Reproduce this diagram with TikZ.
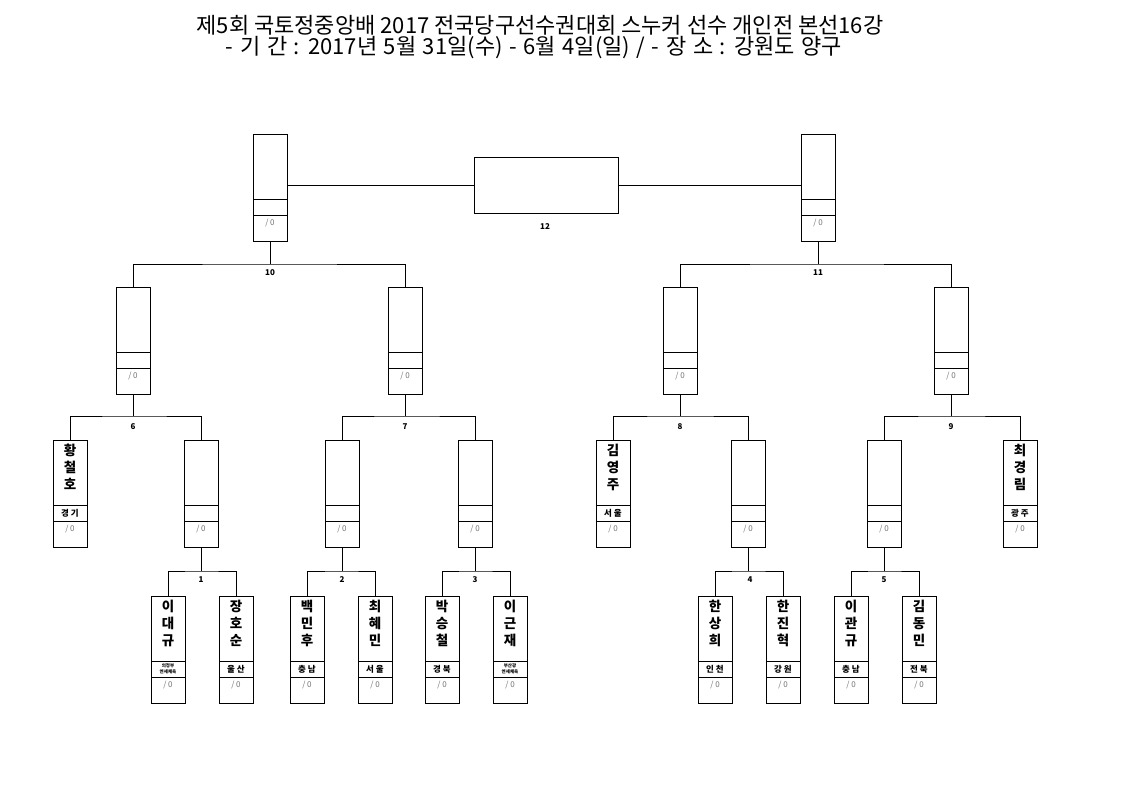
\documentclass[tikz,border=0pt]{standalone}
\usepackage{fontspec}
\setmainfont{Noto Sans CJK KR}
\usetikzlibrary{calc}
\tikzset{
  pbox/.style={draw, line width=0.8pt, minimum width=34pt, minimum height=107pt, inner sep=0pt, outer sep=0pt},
  ln/.style={line width=0.8pt},
  nm/.style={anchor=north, align=center, inner sep=0pt, font=\bfseries\fontsize{13.5}{17}\selectfont},
  rg/.style={inner sep=0pt, font=\bfseries\fontsize{8.5}{9}\selectfont},
  rgs/.style={inner sep=0pt, align=center, font=\bfseries\fontsize{4.5}{5.5}\selectfont},
  sc/.style={inner sep=0pt, text=black!55, font=\fontsize{8}{8}\selectfont},
  num/.style={inner sep=0pt, font=\bfseries\fontsize{8}{9}\selectfont},
  ttl/.style={inner sep=0pt, font=\fontsize{22}{24}\selectfont}
}
\newcommand\pbx[5]{%
  \node[pbox] (#1) at (#2,#3+53.5) {};
  \draw[ln] ([yshift=-65pt]#1.north west) -- ([yshift=-65pt]#1.north east);
  \draw[ln] ([yshift=-81pt]#1.north west) -- ([yshift=-81pt]#1.north east);
  \node[nm] (#1n) at ([yshift=-4pt]#1.north) {#4};
  \node[#5] (#1s) at ([yshift=-89pt]#1.north) {/ 0};
}
\newcommand\rgn[3]{\node[#2] (#1r) at ([yshift=-73pt]#1.north) {#3};}
\begin{document}
\begin{tikzpicture}[x=1pt,y=-1pt]
\fill[white] (0,0) rectangle (1123,794);
\useasboundingbox (0,0) rectangle (1123,794);
\node[ttl] (t1) at (540,25) {제5회 국토정중앙배 2017 전국당구선수권대회 스누커 선수 개인전 본선16강};
\node[ttl] (t2) at (534,48) {\spaceskip=6.6pt plus 1pt\relax - 기 간 : 2017년 5월 31일(수) - 6월 4일(일) / - 장 소 : 강원도 양구};
% final
\node[draw, line width=0.8pt, minimum width=144pt, minimum height=56pt, inner sep=0pt] (fin) at (546,185) {};
\node[num] (l12) at (545,227) {12};
% semifinal boxes
\pbx{s10}{270}{134}{}{sc}
\pbx{s11}{818}{134}{}{sc}
\draw[ln] (s10.east |- fin.west) -- (fin.west);
\draw[ln] (fin.east) -- (s11.west |- fin.east);
% quarter boxes
\pbx{q1}{133}{287}{}{sc}
\pbx{q2}{405}{287}{}{sc}
\pbx{q3}{680}{287}{}{sc}
\pbx{q4}{951}{287}{}{sc}
\coordinate (j10) at (270,264);
\coordinate (j11) at (818,264);
\draw[ln] (s10.south) -- (j10);
\draw[ln] (q1.north) |- (j10) -| (q2.north);
\draw[ln] (s11.south) -- (j11);
\draw[ln] (q3.north) |- (j11) -| (q4.north);
\node[num] (l10) at (270,273) {10};
\node[num] (l11) at (818,273) {11};
% round 2 boxes
\pbx{r1}{70}{440}{황\\철\\호}{sc}\rgn{r1}{rg}{경 기}
\pbx{r2}{201}{440}{}{sc}
\pbx{r3}{342}{440}{}{sc}
\pbx{r4}{475}{440}{}{sc}
\pbx{r5}{613}{440}{김\\영\\주}{sc}\rgn{r5}{rg}{서 울}
\pbx{r6}{748}{440}{}{sc}
\pbx{r7}{884}{440}{}{sc}
\pbx{r8}{1020}{440}{최\\경\\림}{sc}\rgn{r8}{rg}{광 주}
\coordinate (j6) at (133,416);
\coordinate (j7) at (405,416);
\coordinate (j8) at (680,416);
\coordinate (j9) at (951,416);
\draw[ln] (q1.south) -- (j6);
\draw[ln] (r1.north) |- (j6) -| (r2.north);
\draw[ln] (q2.south) -- (j7);
\draw[ln] (r3.north) |- (j7) -| (r4.north);
\draw[ln] (q3.south) -- (j8);
\draw[ln] (r5.north) |- (j8) -| (r6.north);
\draw[ln] (q4.south) -- (j9);
\draw[ln] (r7.north) |- (j9) -| (r8.north);
\node[num] (l6) at (133,427) {6};
\node[num] (l7) at (405,427) {7};
\node[num] (l8) at (680,427) {8};
\node[num] (l9) at (951,427) {9};
% round 1 boxes
\pbx{a1}{168}{596}{이\\대\\규}{sc}\rgn{a1}{rgs}{의정부\\연세체육}
\pbx{a2}{236}{596}{장\\호\\순}{sc}\rgn{a2}{rg}{울 산}
\pbx{a3}{307}{596}{백\\민\\후}{sc}\rgn{a3}{rg}{충 남}
\pbx{a4}{375}{596}{최\\혜\\민}{sc}\rgn{a4}{rg}{서 울}
\pbx{a5}{442}{596}{박\\승\\철}{sc}\rgn{a5}{rg}{경 북}
\pbx{a6}{510}{596}{이\\근\\재}{sc}\rgn{a6}{rgs}{부산광\\연세체육}
\pbx{a7}{715}{596}{한\\상\\희}{sc}\rgn{a7}{rg}{인 천}
\pbx{a8}{783}{596}{한\\진\\혁}{sc}\rgn{a8}{rg}{강 원}
\pbx{a9}{851}{596}{이\\관\\규}{sc}\rgn{a9}{rg}{충 남}
\pbx{a10}{919}{596}{김\\동\\민}{sc}\rgn{a10}{rg}{전 북}
\coordinate (j1) at (201,571);
\coordinate (j2) at (342,571);
\coordinate (j3) at (475,571);
\coordinate (j4) at (748,571);
\coordinate (j5) at (884,571);
\draw[ln] (r2.south) -- (j1);
\draw[ln] (a1.north) |- (j1) -| (a2.north);
\draw[ln] (r3.south) -- (j2);
\draw[ln] (a3.north) |- (j2) -| (a4.north);
\draw[ln] (r4.south) -- (j3);
\draw[ln] (a5.north) |- (j3) -| (a6.north);
\draw[ln] (r6.south) -- (j4);
\draw[ln] (a7.north) |- (j4) -| (a8.north);
\draw[ln] (r7.south) -- (j5);
\draw[ln] (a9.north) |- (j5) -| (a10.north);
\node[num] (l1) at (201,580) {1};
\node[num] (l2) at (342,580) {2};
\node[num] (l3) at (475,580) {3};
\node[num] (l4) at (750,580) {4};
\node[num] (l5) at (884,580) {5};
\end{tikzpicture}
\end{document}
